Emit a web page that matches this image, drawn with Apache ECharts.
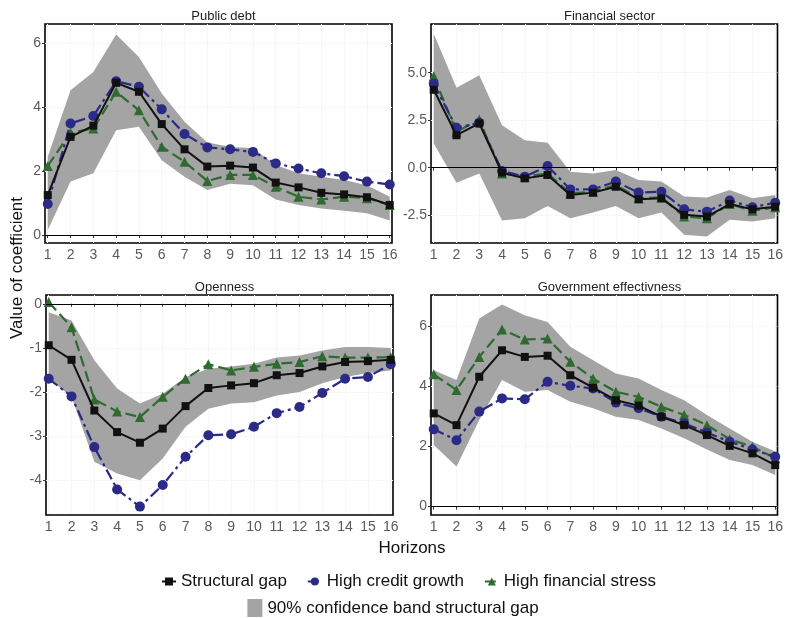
<!DOCTYPE html>
<html><head><meta charset="utf-8">
<script src="https://cdn.jsdelivr.net/npm/echarts@6/dist/echarts.min.js"></script>
<style>html,body{margin:0;padding:0;background:#fff}#c{width:786px;height:618px}</style>
</head><body><div id="c"></div><script>
const horizons = [1,2,3,4,5,6,7,8,9,10,11,12,13,14,15,16];
const panelTitles = ['Public debt','Financial sector','Openness','Government effectivness'];
const seriesNames = ['Structural gap','High credit growth','High financial stress'];
const bandName = '90% confidence band structural gap';

// Public debt
const debtGap    = [1.25,3.07,3.42,4.76,4.48,3.47,2.68,2.14,2.17,2.11,1.64,1.49,1.32,1.27,1.18,0.94];
const debtCredit = [0.97,3.49,3.72,4.81,4.64,3.93,3.16,2.74,2.68,2.60,2.24,2.08,1.93,1.84,1.67,1.58];
const debtStress = [2.16,3.20,3.33,4.48,3.90,2.76,2.29,1.69,1.88,1.88,1.51,1.20,1.11,1.20,1.15,0.94];
const debtLow    = [0.16,1.67,1.93,3.28,3.39,2.34,1.82,1.41,1.60,1.56,1.11,0.94,0.83,0.76,0.68,0.45];
const debtHigh   = [2.45,4.53,5.10,6.27,5.57,4.43,3.54,2.89,2.76,2.71,2.19,1.93,1.82,1.72,1.56,1.20];
// Financial sector
const finGap     = [4.10,1.71,2.33,-0.26,-0.56,-0.38,-1.43,-1.31,-1.00,-1.66,-1.61,-2.48,-2.57,-1.91,-2.19,-2.05];
const finCredit  = [4.42,2.10,2.36,-0.17,-0.47,0.09,-1.14,-1.14,-0.73,-1.31,-1.26,-2.19,-2.31,-1.73,-2.08,-1.84];
const finStress  = [4.81,1.89,2.53,-0.30,-0.47,-0.30,-1.35,-1.26,-0.91,-1.61,-1.56,-2.57,-2.66,-1.91,-2.26,-2.08];
const finLow     = [1.28,-0.79,-0.30,-2.78,-2.66,-2.01,-2.66,-2.36,-2.01,-2.66,-2.36,-3.53,-3.62,-2.74,-2.83,-2.66];
const finHigh    = [7.05,4.21,4.86,2.24,1.45,1.31,-0.21,-0.30,-0.12,-0.65,-0.73,-1.52,-1.56,-1.17,-1.61,-1.43];
// Openness
const openGap    = [-0.94,-1.27,-2.42,-2.91,-3.15,-2.83,-2.32,-1.91,-1.85,-1.80,-1.62,-1.57,-1.42,-1.32,-1.30,-1.27];
const openCredit = [-1.70,-2.10,-3.25,-4.21,-4.60,-4.11,-3.47,-2.98,-2.96,-2.79,-2.48,-2.34,-2.02,-1.70,-1.66,-1.37];
const openStress = [0.04,-0.53,-2.17,-2.44,-2.57,-2.11,-1.70,-1.37,-1.51,-1.43,-1.36,-1.32,-1.19,-1.22,-1.22,-1.21];
const openLow    = [-1.70,-2.11,-3.58,-3.85,-4.00,-3.51,-2.79,-2.38,-2.26,-2.23,-2.08,-2.00,-1.80,-1.66,-1.57,-1.51];
const openHigh   = [-0.19,-0.38,-1.28,-1.92,-2.26,-2.04,-1.66,-1.47,-1.42,-1.36,-1.22,-1.17,-1.06,-0.98,-0.98,-1.00];
// Government effectiveness
const govGap     = [3.10,2.71,4.32,5.20,4.98,5.02,4.37,3.96,3.54,3.36,2.99,2.71,2.38,2.02,1.77,1.38];
const govCredit  = [2.57,2.21,3.16,3.60,3.57,4.15,4.02,3.93,3.46,3.27,2.99,2.77,2.46,2.16,1.90,1.66];
const govStress  = [4.40,3.88,4.98,5.89,5.56,5.59,4.82,4.26,3.82,3.65,3.32,3.05,2.71,2.24,1.99,1.61];
const govLow     = [2.05,1.33,2.88,4.21,3.82,3.88,3.49,3.27,2.99,2.88,2.60,2.27,1.90,1.55,1.38,1.05];
const govHigh    = [4.54,4.21,6.26,6.72,6.37,6.14,5.32,4.87,4.43,4.26,3.88,3.54,3.05,2.60,2.16,1.83];

// tick labels
const yTicks = [[0,2,4,6],[-2.5,0,2.5,5],[-4,-3,-2,-1,0],[0,2,4,6]];
const yTickText = [['0','2','4','6'],['-2.5','0.0','2.5','5.0'],['-4','-3','-2','-1','0'],['0','2','4','6']];

const panels = [
  {gap:debtGap, credit:debtCredit, stress:debtStress, low:debtLow, high:debtHigh},
  {gap:finGap, credit:finCredit, stress:finStress, low:finLow, high:finHigh},
  {gap:openGap, credit:openCredit, stress:openStress, low:openLow, high:openHigh},
  {gap:govGap, credit:govCredit, stress:govStress, low:govLow, high:govHigh}
];

const layout = [
  {left:45, top:24, width:347, height:219, ymin:-0.25, ymax:6.6},
  {left:431, top:24, width:347, height:219, ymin:-3.96, ymax:7.56},
  {left:46, top:295, width:347, height:220, ymin:-4.79, ymax:0.2},
  {left:431, top:295, width:347, height:220, ymin:-0.28, ymax:7.04}
];
const FONT = 'Liberation Sans, Arial, sans-serif';
const colGap = '#111111', colCredit = '#2b2a86', colStress = '#2f6a30', colBand = '#a4a4a4';

const grids = [], xAxes = [], yAxes = [], series = [], titles = [];
layout.forEach((L, i) => {
  grids.push({left:L.left, top:L.top, width:L.width, height:L.height, show:true,
    borderColor:'#000', borderWidth:1.6, backgroundColor:'#fff'});
  xAxes.push({type:'value', gridIndex:i, min:0.88, max:16.1,
    axisLine:{show:false},
    axisTick:{show:true, customValues:horizons, length:3, lineStyle:{color:'#333'}},
    axisLabel:{customValues:horizons, color:'#5a5a5a', fontSize:14, fontFamily:FONT, margin:5},
    splitLine:{show:true, lineStyle:{color:'#efefef', type:'dotted', width:1}}});
  const tv = yTicks[i], tt = yTickText[i];
  yAxes.push({type:'value', gridIndex:i, min:L.ymin, max:L.ymax,
    axisLine:{show:false},
    axisTick:{show:true, customValues:tv, length:3, lineStyle:{color:'#333'}},
    axisLabel:{customValues:tv, color:'#5a5a5a', fontSize:14, fontFamily:FONT, margin:4,
      formatter: v => { const k = tv.findIndex(t => Math.abs(t - v) < 1e-6); return k >= 0 ? tt[k] : ''; }},
    splitLine:{show:true, lineStyle:{color:'#efefef', type:'dotted', width:1}}});
  titles.push({text:panelTitles[i], left:L.left + L.width/2, top:L.top - 19, textAlign:'center',
    textStyle:{fontSize:13, fontWeight:'normal', color:'#222', fontFamily:FONT}});
  const P = panels[i];
  const pair = arr => horizons.map((h, k) => [h, arr[k]]);
  series.push({name:bandName, type:'custom', xAxisIndex:i, yAxisIndex:i, silent:true, z:1,
    itemStyle:{color:colBand},
    data:horizons.map((h, k) => [h, P.low[k], P.high[k]]),
    encode:{x:0, y:[1,2]},
    renderItem:(params, api) => {
      if (params.dataIndex !== 0) return null;
      const pts = [];
      horizons.forEach((h, k) => pts.push(api.coord([h, P.high[k]])));
      for (let k = horizons.length - 1; k >= 0; k--) pts.push(api.coord([horizons[k], P.low[k]]));
      return {type:'polygon', shape:{points:pts}, style:{fill:colBand, stroke:null}};
    }});
  series.push({type:'line', xAxisIndex:i, yAxisIndex:i, data:pair(P.low), symbol:'none',
    lineStyle:{opacity:0}, silent:true, z:2,
    markLine:{silent:true, symbol:'none', label:{show:false},
      lineStyle:{color:'#000', width:1.2, type:'solid'}, data:[{yAxis:0}]}});
  series.push({name:seriesNames[2], type:'line', xAxisIndex:i, yAxisIndex:i, data:pair(P.stress),
    symbol:'triangle', symbolSize:10, itemStyle:{color:colStress},
    lineStyle:{color:colStress, width:2.2, type:[11,5]}, z:3});
  series.push({name:seriesNames[1], type:'line', xAxisIndex:i, yAxisIndex:i, data:pair(P.credit),
    symbol:'circle', symbolSize:10, itemStyle:{color:colCredit},
    lineStyle:{color:colCredit, width:2.2, type:[11,4,3,4]}, z:4});
  series.push({name:seriesNames[0], type:'line', xAxisIndex:i, yAxisIndex:i, data:pair(P.gap),
    symbol:'rect', symbolSize:8, itemStyle:{color:colGap},
    lineStyle:{color:colGap, width:2}, z:5});
});

const chart = echarts.init(document.getElementById('c'), null, {renderer:'canvas'});
chart.setOption({
  backgroundColor:'#fff',
  animation:false,
  title:titles,
  grid:grids, xAxis:xAxes, yAxis:yAxes, series:series,
  legend:[
    {data:seriesNames, left:156, top:568, itemWidth:14, itemHeight:10, itemGap:20,
      textStyle:{fontSize:17, color:'#111', fontFamily:FONT}},
    {data:[{name:bandName, icon:'rect', itemStyle:{color:colBand}}], left:'center', top:594, itemWidth:15, itemHeight:18,
      textStyle:{fontSize:17, color:'#111', fontFamily:FONT}}
  ],
  graphic:[
    {type:'text', x:17, y:268, rotation:Math.PI/2,
      style:{text:'Value of coefficient', font:'17px Liberation Sans, Arial, sans-serif', fill:'#111', align:'center', verticalAlign:'middle'}},
    {type:'text', x:412, y:548,
      style:{text:'Horizons', font:'17px Liberation Sans, Arial, sans-serif', fill:'#111', align:'center', verticalAlign:'middle'}}
  ]
});
</script></body></html>
